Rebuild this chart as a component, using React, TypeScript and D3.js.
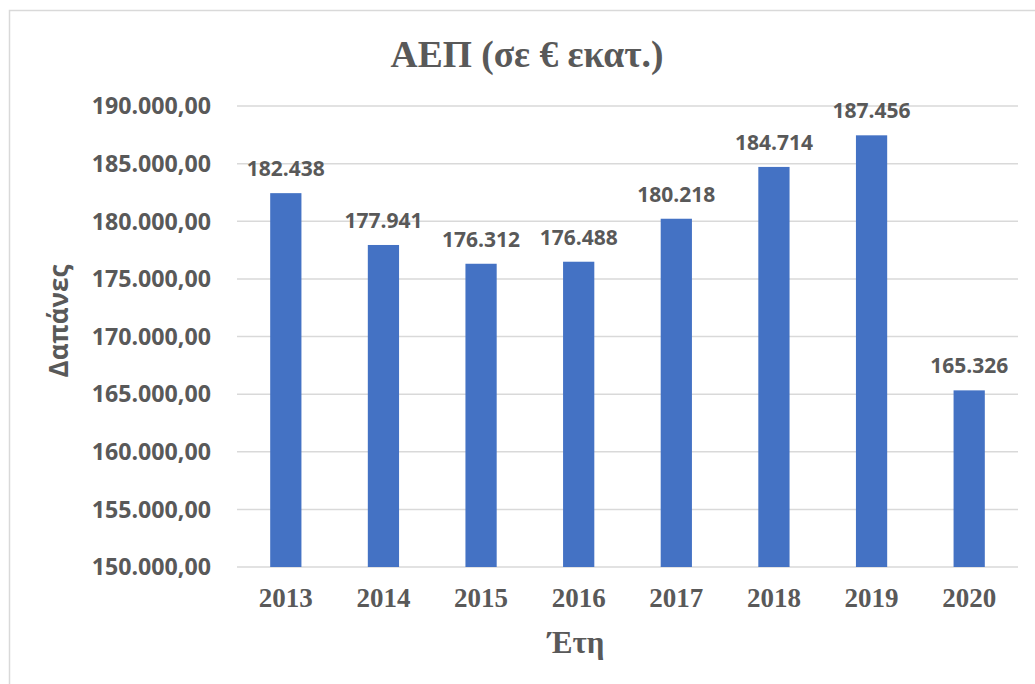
import React from "react";
import * as d3 from "d3";

const years = ["2013", "2014", "2015", "2016", "2017", "2018", "2019", "2020"];
const gdp = [182438, 177941, 176312, 176488, 180218, 184714, 187456, 165326];
const yTicks = [150000, 155000, 160000, 165000, 170000, 175000, 180000, 185000, 190000];

const W = 1035;
const H = 684;
const plot = { left: 237, right: 1018, top: 106, bottom: 567 };

const fmtTick = (v: number) =>
  d3.format(",.2f")(v).replace(/,/g, "#").replace(/\./g, ",").replace(/#/g, ".");
const fmtLabel = (v: number) => d3.format(",")(v).replace(/,/g, ".");

export default function App() {
  const x = d3.scaleBand<string>().domain(years).range([plot.left, plot.right]).paddingInner(0.68).paddingOuter(0.34);
  const y = d3.scaleLinear().domain([150000, 190000]).range([plot.bottom, plot.top]);
  const text = "#595959";
  const sans = "'Open Sans', sans-serif";
  const serif = "'Liberation Serif', 'Times New Roman', serif";
  return (
    <svg width={W} height={H} style={{ position: "absolute", left: 0, top: 0, background: "#fff" }}>
      <rect x={9.5} y={10.5} width={W + 10} height={H + 10} fill="#fff" stroke="#d9d9d9" strokeWidth={1.5} />
      <text x={527} y={67} textAnchor="middle" fontFamily={serif} fontWeight="bold" fontSize={37.5} fill={text}>
        ΑΕΠ (σε € εκατ.)
      </text>
      {yTicks.map((t) => (
        <g key={t}>
          <line x1={plot.left} x2={plot.right} y1={y(t)} y2={y(t)} stroke="#d9d9d9" strokeWidth={1.5} />
          <text x={211} y={y(t)} dy="0.36em" textAnchor="end" fontFamily={sans} fontWeight="bold" fontSize={23.2} fill={text}>
            {fmtTick(t)}
          </text>
        </g>
      ))}
      {years.map((yr, i) => (
        <g key={yr}>
          <rect x={x(yr)} y={y(gdp[i])} width={x.bandwidth()} height={plot.bottom - y(gdp[i])} fill="#4472C4" />
          <text x={(x(yr) as number) + x.bandwidth() / 2} y={y(gdp[i]) - 17} textAnchor="middle" fontFamily={sans} fontWeight="bold" fontSize={21} fill={text}>
            {fmtLabel(gdp[i])}
          </text>
          <text x={(x(yr) as number) + x.bandwidth() / 2} y={607} textAnchor="middle" fontFamily={serif} fontWeight="bold" fontSize={27} fill={text}>
            {yr}
          </text>
        </g>
      ))}
      <text x={576} y={653} textAnchor="middle" fontFamily={serif} fontWeight="bold" fontSize={31} fill={text}>
        Έτη
      </text>
      <text transform="translate(68,321) rotate(-90)" textAnchor="middle" fontFamily={sans} fontWeight="bold" fontSize={26} fill={text}>
        Δαπάνες
      </text>
    </svg>
  );
}
